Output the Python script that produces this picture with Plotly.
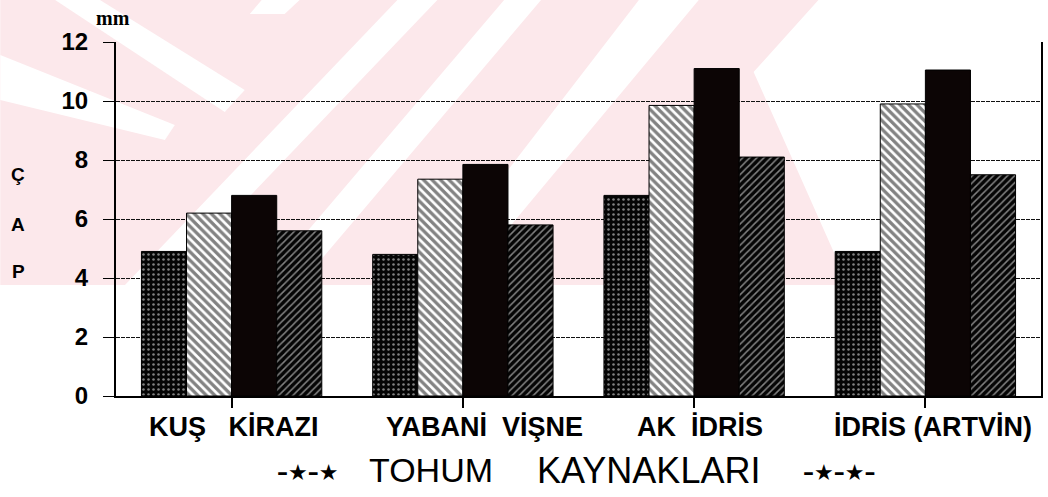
import plotly.graph_objects as go

# ---------------- data ----------------
categories = ["KUŞ KİRAZI", "YABANİ VİŞNE", "AK İDRİS", "İDRİS (ARTVİN)"]
category_labels = ["KUŞ\u00a0 \u00a0KİRAZI", "YABANİ\u00a0 VİŞNE", "AK\u00a0 İDRİS", "İDRİS (ARTVİN)"]
series_names = ["Seri 1", "Seri 2", "Seri 3", "Seri 4"]
s1 = [4.9, 4.8, 6.8, 4.9]
s2 = [6.2, 7.35, 9.85, 9.9]
s3 = [6.8, 7.85, 11.1, 11.05]
s4 = [5.6, 5.8, 8.1, 7.5]
y_ticks = [0, 2, 4, 6, 8, 10, 12]
y_letters = ["Ç", "A", "P"]
title_words = ["TOHUM", "KAYNAKLARI"]

# ---------------- layout geometry (pixels) ----------------
W, H = 1048, 497
L, R, T, B = 116, 5, 42, 101
PW, PH = W - L - R, H - T - B


def P(px, py):
    return (px - L) / PW, (H - B - py) / PH


def path(points):
    pts = [P(x, y) for x, y in points]
    return "M " + " L ".join(f"{x:.4f},{y:.4f}" for x, y in pts) + " Z"


patterns = [
    dict(shape=".", bgcolor="#050505", fgcolor="white", size=5, solidity=0.2),
    dict(shape="\\", bgcolor="white", fgcolor="#050505", size=6, solidity=0.55),
    None,
    dict(shape="/", bgcolor="#050505", fgcolor="white", size=5, solidity=0.3),
]
colors = ["#050505", "white", "#0c0505", "#050505"]

fig = go.Figure()
for name, vals, pat, col in zip(series_names, [s1, s2, s3, s4], patterns, colors):
    marker = dict(color=col, line=dict(color="black", width=1))
    if pat is not None:
        marker["pattern"] = pat
    fig.add_trace(go.Bar(x=categories, y=vals, name=name, marker=marker,
                         showlegend=False, hoverinfo="x+y"))

# ---------------- watermark-like background ----------------
pink = "#fce8eb"
shapes = [
    dict(type="path", path=path([(0, 0), (820, 0), (755, 72), (850, 285), (0, 285)]),
         fillcolor=pink, line=dict(width=0), layer="below", xref="paper", yref="paper"),
]
white_bands = [
    [(55, 0), (100, 0), (245, 90), (225, 112)],
    [(0, 55), (0, 100), (165, 140), (175, 125)],
    [(398, 0), (438, 0), (165, 285), (125, 285)],
    [(505, 0), (542, 0), (300, 285), (262, 285)],
    [(640, 0), (700, 0), (462, 285), (420, 285)],
    [(262, 0), (300, 0), (285, 14), (250, 14)],
]
for band in white_bands:
    shapes.append(dict(type="path", path=path(band), fillcolor="white",
                       line=dict(width=0), layer="below", xref="paper", yref="paper"))

# ---------------- annotations ----------------
ann = []
label_shift = [2, 22, 6, 8]
for cat, lab, sh in zip(categories, category_labels, label_shift):
    ann.append(dict(x=cat, xref="x", y=P(0, 427)[1], yref="paper", text=lab,
                    showarrow=False, xshift=sh, yanchor="middle", xanchor="center",
                    font=dict(family="Liberation Sans, Arial, sans-serif", size=27,
                              color="black", weight="bold")))


def add_text(text, px, py, size, family, weight="normal"):
    x, y = P(px, py)
    ann.append(dict(x=x, y=y, xref="paper", yref="paper", text=text, showarrow=False,
                    xanchor="center", yanchor="middle",
                    font=dict(family=family, size=size, color="black", weight=weight)))


SANS = "Liberation Sans, Arial, sans-serif"
for letter, py in zip(y_letters, [174, 224, 271]):
    add_text(letter, 18, py, 19, SANS, "bold")

add_text("mm", 113, 18, 20, "Liberation Serif, Times New Roman, serif", "bold")

for word, px, sz in zip(title_words, [432, 650], [34, 36]):
    add_text(word, px, 470, sz, SANS)
add_text("–★–★", 308, 472, 22, "DejaVu Sans, sans-serif", "bold")
add_text("–★–★–", 841, 472, 22, "DejaVu Sans, sans-serif", "bold")

fig.update_layout(
    width=W, height=H,
    margin=dict(l=L, r=R, t=T, b=B),
    paper_bgcolor="white",
    plot_bgcolor="rgba(0,0,0,0)",
    barmode="group", bargap=0.22, bargroupgap=0,
    shapes=shapes, annotations=ann,
    xaxis=dict(type="category", showticklabels=False, ticks="outside", ticklen=10,
               tickwidth=1.5, tickcolor="black", showline=True, linecolor="black",
               linewidth=1.5, showgrid=False, fixedrange=True),
    yaxis=dict(range=[0, 12], tickvals=y_ticks, ticks="outside", ticklen=11,
               tickwidth=1, tickcolor="black", showline=True, linecolor="black",
               linewidth=2, mirror=True, showgrid=True, gridcolor="#111111",
               gridwidth=1, griddash="4px,1px", zeroline=False, ticklabelstandoff=10,
               tickfont=dict(family=SANS, size=24, color="black", weight="bold"),
               fixedrange=True),
)

fig.write_html("out.html", config={"displayModeBar": False},
               post_script="document.body.style.margin='0';")
